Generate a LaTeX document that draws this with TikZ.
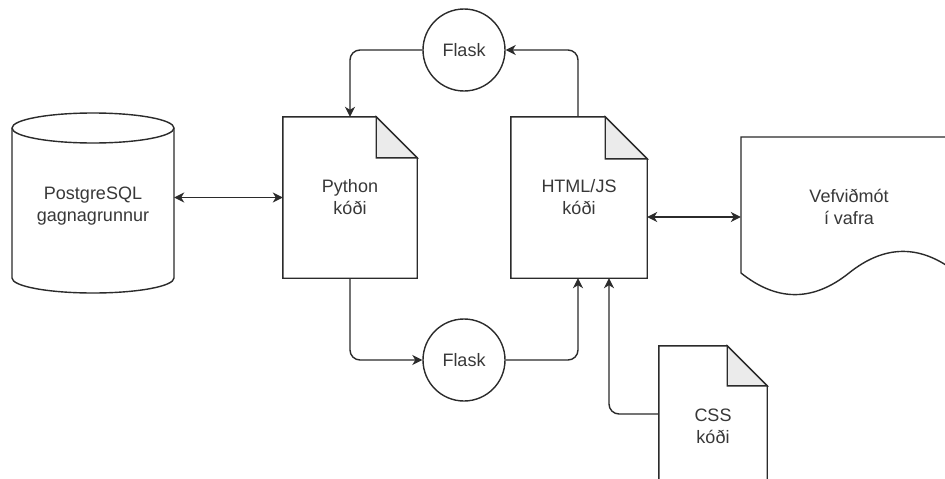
\documentclass[tikz,border=0pt]{standalone}
\usepackage{fontspec}
\setmainfont{Liberation Sans}
\usetikzlibrary{arrows.meta,calc}
\definecolor{linec}{HTML}{2B2B2B}
\definecolor{textc}{HTML}{383838}
\definecolor{foldc}{HTML}{EBEBEB}
\tikzset{
  line/.style={draw=linec, line width=1.4pt, line join=miter},
  txt/.style={text=textc, font=\fontsize{18}{22}\selectfont, align=center, inner sep=0pt},
  box/.style={draw=none, inner sep=0pt, txt},
  flaskc/.style={circle, line, minimum size=82pt, inner sep=0pt, txt},
  conn/.style={line, rounded corners=10pt, arrows={-Stealth[length=10pt,width=10pt,inset=3pt]}},
  conn2/.style={line, rounded corners=10pt, arrows={Stealth[length=10pt,width=10pt,inset=3pt]-Stealth[length=10pt,width=10pt,inset=3pt]}}
}
\newcommand{\docshape}[2]{%
  \draw[line] (#1.north west) -- ([xshift=-#2]#1.north east) -- ([yshift=-#2]#1.north east) -- (#1.south east) -- (#1.south west) -- cycle;
  \draw[line, fill=foldc] ([xshift=-#2]#1.north east) -- ([xshift=-#2,yshift=-#2]#1.north east) -- ([yshift=-#2]#1.north east) -- cycle;
}
\begin{document}
\begin{tikzpicture}[x=1pt,y=-1pt]
\clip (0,0) rectangle (945,479);
\fill[white] (0,0) rectangle (945,479);

% database cylinder
\node[box, minimum width=162pt, minimum height=180pt] (db) at (93,203) {};
\draw[line, fill=white] (12,128) -- (12,278)
  .. controls (12,286.28) and (48.26,293) .. (93,293)
  .. controls (137.74,293) and (174,286.28) .. (174,278)
  -- (174,128)
  .. controls (174,119.72) and (137.74,113) .. (93,113)
  .. controls (48.26,113) and (12,119.72) .. (12,128) -- cycle;
\draw[line] (12,128) .. controls (12,136.28) and (48.26,143) .. (93,143)
  .. controls (137.74,143) and (174,136.28) .. (174,128);
\node[txt] (dbtxt) at (93,206) {PostgreSQL\\gagnagrunnur};

% documents
\node[box, minimum width=134pt, minimum height=161pt] (py) at (350,197.5) {Python\\kóði};
\docshape{py}{41pt}
\node[box, minimum width=136pt, minimum height=161pt] (html) at (579,197.5) {HTML/JS\\kóði};
\docshape{html}{42pt}
\node[box, minimum width=108pt, minimum height=161pt] (css) at (713,426.5) {CSS\\kóði};
\docshape{css}{40pt}

% browser document shape
\node[box, minimum width=216pt, minimum height=160pt] (web) at (849,217) {};
\draw[line] (741,137) -- (957,137) -- (957,273)
  .. controls (921,244.2) and (885,244.2) .. (849,273)
  .. controls (813,301.8) and (777,301.8) .. (741,273) -- cycle;
\node[txt] (webtxt) at (849,207) {Vefviðmót\\í vafra};

% flask circles
\node[flaskc] (f1) at (464,50) {Flask};
\node[flaskc] (f2) at (464,360) {Flask};

% connectors
\draw[conn2] (py.west -| db.east) -- (py.west);
\draw[conn] ([xshift=-1pt]html.north) |- (f1.east);
\draw[conn] (f1.west) -| (py.north);
\draw[conn] (py.south) |- (f2.west);
\draw[conn] (f2.east) -| ([xshift=-1pt]html.south);
\draw[conn] ([yshift=12.5pt]css.west) -| ([xshift=30pt]html.south);
\draw[conn2] (html.east |- web.west) -- (web.west);
\end{tikzpicture}
\end{document}
